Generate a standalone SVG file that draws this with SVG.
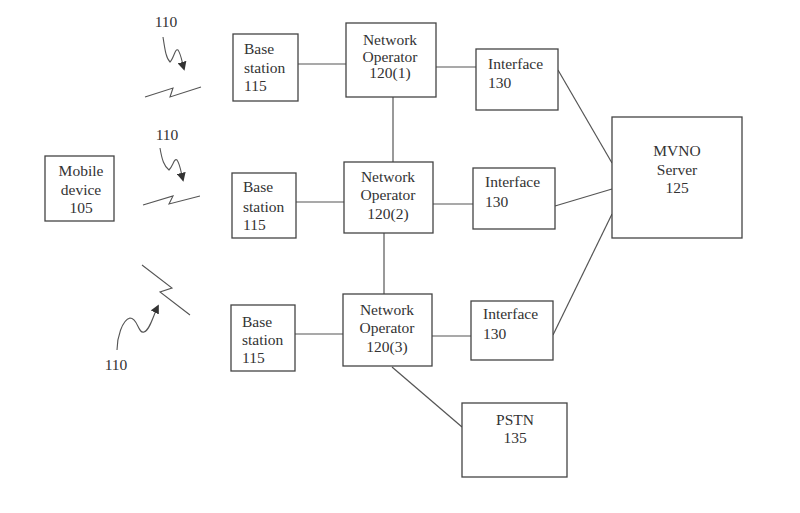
<svg xmlns="http://www.w3.org/2000/svg" width="800" height="513" viewBox="0 0 800 513">
<defs>
<style>
.box{fill:#fff;stroke:#444;stroke-width:1.3}
.ln{fill:none;stroke:#555;stroke-width:1.2}
.sq{fill:none;stroke:#555;stroke-width:1.1}
text{font-family:"Liberation Serif","Times New Roman",serif;font-size:15.5px;fill:#333}
.c{text-anchor:middle}
</style>
<marker id="ah" viewBox="0 0 10 10" refX="8" refY="5" markerWidth="9" markerHeight="9" orient="auto" markerUnits="userSpaceOnUse">
<path d="M0,0 L10,5 L0,10 z" fill="#333"/>
</marker>
</defs>
<rect width="800" height="513" fill="#fff"/>
<g id="connectors">
<line class="ln" x1="298" y1="64" x2="346" y2="64"/>
<line class="ln" x1="436" y1="67" x2="476" y2="67"/>
<line class="ln" x1="296" y1="202" x2="344" y2="202"/>
<line class="ln" x1="433" y1="204" x2="473" y2="204"/>
<line class="ln" x1="295" y1="334" x2="343" y2="334"/>
<line class="ln" x1="432" y1="336" x2="471" y2="336"/>
<line class="ln" x1="393" y1="97" x2="393" y2="162"/>
<line class="ln" x1="384" y1="233" x2="384" y2="294"/>
<line class="ln" x1="558" y1="70" x2="612" y2="163"/>
<line class="ln" x1="555" y1="206" x2="612" y2="189"/>
<line class="ln" x1="553" y1="335" x2="612" y2="214"/>
<line class="ln" x1="392" y1="367" x2="462" y2="427"/>
</g>
<g id="wireless">
<path class="sq" d="M163,37 C165,50 166,58 170,62 C174,58 175,48 178,50 C181,54 182,62 184,69" marker-end="url(#ah)"/>
<path class="sq" d="M145,97 L173,88 L170,97 L201,87"/>
<text class="c" x="166" y="27">110</text>
<path class="sq" d="M160,148 C162,160 164,166 169,170 C173,166 174,158 177,160 C180,164 181,172 183,180" marker-end="url(#ah)"/>
<path class="sq" d="M143,205 L173,196 L169,204 L200,196"/>
<text class="c" x="167" y="140">110</text>
<path class="sq" d="M117,350 C117,338 122,320 130,318 C138,318 138,334 144,332 C150,330 153,316 158,306" marker-end="url(#ah)"/>
<path class="sq" d="M142,265 L172,288 L160,292 L190,315"/>
<text class="c" x="116" y="370">110</text>
</g>
<g id="mobile">
<rect class="box" x="45" y="156" width="69" height="65"/>
<text class="c" x="81" y="176">Mobile</text>
<text class="c" x="81" y="195">device</text>
<text class="c" x="81" y="213">105</text>
</g>
<g id="bs1">
<rect class="box" x="233" y="34" width="65" height="67"/>
<text x="244" y="54">Base</text>
<text x="244" y="73">station</text>
<text x="244" y="91">115</text>
</g>
<g id="bs2">
<rect class="box" x="232" y="173" width="64" height="65"/>
<text x="243" y="192">Base</text>
<text x="243" y="212">station</text>
<text x="243" y="230">115</text>
</g>
<g id="bs3">
<rect class="box" x="231" y="305" width="64" height="66"/>
<text x="242" y="327">Base</text>
<text x="242" y="345">station</text>
<text x="242" y="363">115</text>
</g>
<g id="no1">
<rect class="box" x="346" y="23" width="90" height="74"/>
<text class="c" x="390" y="45">Network</text>
<text class="c" x="390" y="62">Operator</text>
<text class="c" x="390" y="78">120(1)</text>
</g>
<g id="no2">
<rect class="box" x="344" y="162" width="89" height="71"/>
<text class="c" x="388" y="182">Network</text>
<text class="c" x="388" y="200">Operator</text>
<text class="c" x="388" y="219">120(2)</text>
</g>
<g id="no3">
<rect class="box" x="343" y="294" width="89" height="72"/>
<text class="c" x="387" y="315">Network</text>
<text class="c" x="387" y="333">Operator</text>
<text class="c" x="387" y="352">120(3)</text>
</g>
<g id="intf1">
<rect class="box" x="476" y="49" width="82" height="61"/>
<text x="488" y="69">Interface</text>
<text x="488" y="88">130</text>
</g>
<g id="intf2">
<rect class="box" x="473" y="168" width="82" height="61"/>
<text x="485" y="187">Interface</text>
<text x="485" y="207">130</text>
</g>
<g id="intf3">
<rect class="box" x="471" y="301" width="82" height="59"/>
<text x="483" y="319">Interface</text>
<text x="483" y="339">130</text>
</g>
<g id="mvno">
<rect class="box" x="612" y="117" width="130" height="121"/>
<text class="c" x="677" y="156">MVNO</text>
<text class="c" x="677" y="175">Server</text>
<text class="c" x="677" y="193">125</text>
</g>
<g id="pstn">
<rect class="box" x="462" y="403" width="105" height="74"/>
<text class="c" x="515" y="425">PSTN</text>
<text class="c" x="515" y="443">135</text>
</g>
</svg>
